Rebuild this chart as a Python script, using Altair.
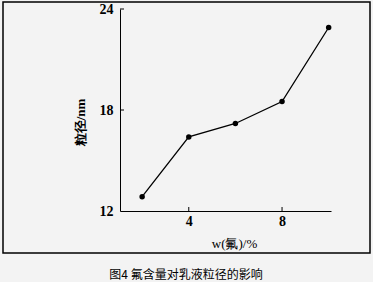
import altair as alt
import pandas as pd

x_vals = [2, 4, 6, 8, 10]
y_vals = [12.85, 16.4, 17.2, 18.5, 22.9]
x_ticks = [4, 8]
y_ticks = [12, 18, 24]
x_title = "w(氟)/%"
y_title = "粒径/nm"
caption = "图4 氟含量对乳液粒径的影响"

df = pd.DataFrame({"x": x_vals, "y": y_vals})
W, H = 211, 202
SERIF = "Liberation Serif"

xs = alt.Scale(domain=[1.05, 10.1], nice=False, zero=False)
ys = alt.Scale(domain=[12, 24], nice=False, zero=False)

base = alt.Chart(df)

line = base.mark_line(color="black", strokeWidth=1.3).encode(
    x=alt.X("x:Q", scale=xs, axis=alt.Axis(
        values=x_ticks, ticks=False, grid=False, domainColor="black",
        labelFont=SERIF, labelFontSize=14, labelColor="black", labelPadding=3,
        labelFontWeight="bold",
        title=x_title, titleFont=SERIF, titleFontSize=13, titleFontWeight="normal",
        titleColor="black", titleX=114, titleY=32, titleBaseline="middle")),
    y=alt.Y("y:Q", scale=ys, axis=alt.Axis(
        values=y_ticks, ticks=False, grid=False, domainColor="black",
        labelFont=SERIF, labelFontSize=14, labelColor="black", labelPadding=7,
        labelFontWeight="bold",
        title=y_title, titleFont=SERIF, titleFontSize=13, titleFontWeight="bold",
        titleColor="black", titleX=-40, titleY=113, titleAngle=-90,
        titleBaseline="middle", titleAlign="center")),
)
pts = base.mark_circle(color="black", size=30, opacity=1).encode(
    x=alt.X("x:Q", scale=xs), y=alt.Y("y:Q", scale=ys))

xt = alt.Chart(pd.DataFrame({"t": x_ticks})).mark_rule(color="black").encode(
    x=alt.X("t:Q", scale=xs), y=alt.value(H), y2=alt.value(H - 4))
yt = alt.Chart(pd.DataFrame({"t": [18, 24]})).mark_rule(color="black").encode(
    y=alt.Y("t:Q", scale=ys), x=alt.value(0), x2=alt.value(4))

frame = alt.Chart(pd.DataFrame({"a": [0]})).mark_rect(
    fill=None, stroke="black", strokeWidth=1.5, clip=False).encode(
    x=alt.value(-117), x2=alt.value(250), y=alt.value(-7), y2=alt.value(244))

cap = alt.Chart(pd.DataFrame({"c": [caption]})).mark_text(
    font="Noto Sans CJK SC", fontSize=12, color="black", clip=False).encode(
    x=alt.value(66), y=alt.value(266), text="c:N")

chart = alt.layer(frame, line, pts, xt, yt, cap).properties(
    width=W, height=H,
    autosize=alt.AutoSizeParams(type="none"),
    padding={"left": 120, "top": 9, "right": 42, "bottom": 71},
    background="#f3f3f3",
).configure_view(stroke=None)

chart.save("out.html", embed_options={"renderer": "svg", "actions": False})
